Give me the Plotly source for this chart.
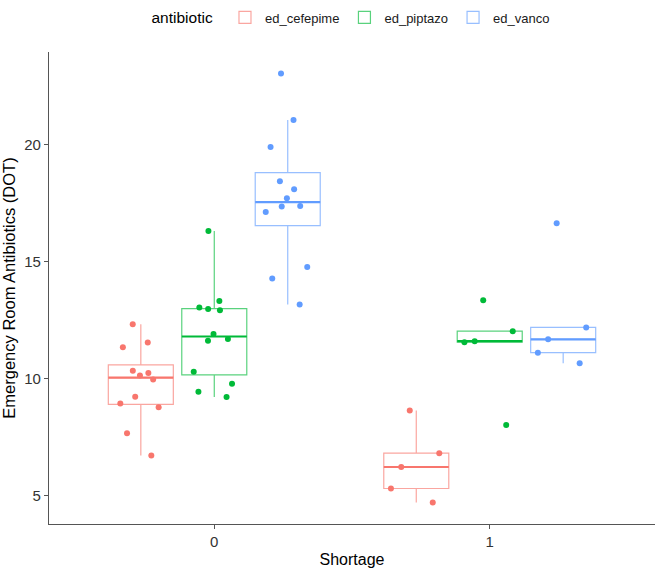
import numpy as np
import plotly.graph_objects as go

# ---- data ----
shortage_levels = ["0", "1"]
antibiotics = ["ed_cefepime", "ed_piptazo", "ed_vanco"]
colors = ["#F8766D", "#00BA38", "#619CFF"]
line_colors = ["rgba(248,118,109,0.65)", "rgba(0,186,56,0.65)", "rgba(97,156,255,0.65)"]

cefepime_0 = [12.33, 11.54, 11.34, 10.34, 10.13, 10.24, 9.96, 9.22, 8.94, 8.78, 7.66, 6.71]
cefepime_1 = [8.64, 6.81, 6.22, 5.30, 4.70]
piptazo_0 = [16.31, 13.32, 13.04, 12.98, 12.92, 11.91, 11.69, 11.62, 10.29, 9.78, 9.44, 9.21]
piptazo_1 = [13.35, 12.03, 11.60, 11.56, 8.02]
vanco_0 = [23.05, 21.06, 19.90, 18.44, 18.10, 17.71, 17.38, 17.36, 17.13, 14.77, 14.28, 13.17]
vanco_1 = [16.64, 12.19, 11.68, 11.11, 10.66]

y_ticks = [5, 10, 15, 20]

series = {
    "ed_cefepime": [cefepime_0, cefepime_1],
    "ed_piptazo": [piptazo_0, piptazo_1],
    "ed_vanco": [vanco_0, vanco_1],
}


def box_stats(vals):
    a = np.asarray(vals, float)
    q1, med, q3 = np.percentile(a, [25, 50, 75])  # same as R type 7 (ggplot)
    iqr = q3 - q1
    lo = a[a >= q1 - 1.5 * iqr].min()
    hi = a[a <= q3 + 1.5 * iqr].max()
    return q1, med, q3, lo, hi


fig = go.Figure()
for name, col, lcol in zip(antibiotics, colors, line_colors):
    groups = series[name]
    st = [box_stats(g) for g in groups]
    fig.add_trace(go.Box(
        x=shortage_levels,
        y=groups,
        q1=[s[0] for s in st],
        median=[s[1] for s in st],
        q3=[s[2] for s in st],
        lowerfence=[s[3] for s in st],
        upperfence=[s[4] for s in st],
        name=name,
        alignmentgroup="a",
        offsetgroup=name,
        boxpoints="all",
        jitter=0.8,
        pointpos=0,
        marker=dict(color=col, size=6),
        line=dict(color=lcol, width=1.2),
        fillcolor="rgba(255,255,255,0)",
        whiskerwidth=0,
        hoverinfo="skip",
    ))
    meds = [s[1] for s in st]
    fig.add_trace(go.Box(
        x=shortage_levels,
        q1=meds, median=meds, q3=meds, lowerfence=meds, upperfence=meds,
        name=name,
        alignmentgroup="a",
        offsetgroup=name,
        boxpoints=False,
        line=dict(color=col, width=2.2),
        fillcolor="rgba(255,255,255,0)",
        whiskerwidth=0,
        showlegend=False,
        hoverinfo="skip",
    ))

all_vals = np.concatenate([np.asarray(v, float) for g in series.values() for v in g])
vmin, vmax = all_vals.min(), all_vals.max()
pad = 0.05 * (vmax - vmin)

axis_color = "#555555"
fig.update_layout(
    width=657, height=573,
    margin=dict(l=49, r=2, t=49, b=49),
    plot_bgcolor="white", paper_bgcolor="white",
    boxmode="group", boxgap=0.2, boxgroupgap=0.115,
    font=dict(family="Liberation Sans, Arial, sans-serif", color="black"),
    showlegend=True,
    legend=dict(
        orientation="h", x=0.5, xanchor="center", y=1.072, yanchor="middle",
        title=dict(text="antibiotic ", side="left", font=dict(size=15.5, color="black")),
        font=dict(size=13, color="#1a1a1a"),
        itemwidth=30,
    ),
    xaxis=dict(
        type="category", categoryorder="array", categoryarray=shortage_levels,
        range=[-0.6, 1.6],
        showline=True, linecolor=axis_color, linewidth=1.2,
        ticks="outside", ticklen=4, tickcolor=axis_color, tickwidth=1,
        tickfont=dict(size=15, color="#333333"),
        showgrid=False, zeroline=False,
        title=dict(text="Shortage", font=dict(size=16, color="black"), standoff=4),
    ),
    yaxis=dict(
        range=[vmin - pad, vmax + pad],
        tickvals=y_ticks, ticktext=[str(t) for t in y_ticks],
        showline=True, linecolor=axis_color, linewidth=1.2,
        ticks="outside", ticklen=4, tickcolor=axis_color, tickwidth=1,
        tickfont=dict(size=15, color="#333333"),
        showgrid=False, zeroline=False,
        title=dict(text="Emergency Room Antibiotics (DOT)", font=dict(size=16.5, color="black"), standoff=4),
    ),
)

fig.write_html("out.html")
